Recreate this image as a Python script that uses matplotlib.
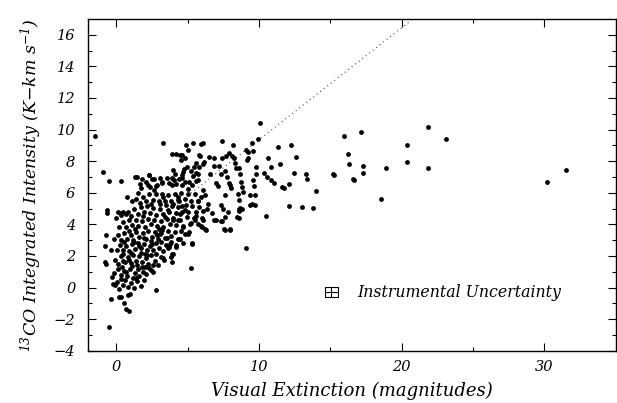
import numpy as np
import matplotlib
matplotlib.use("Agg")
import matplotlib.pyplot as plt
from matplotlib.patches import Rectangle

plt.rcParams['font.family'] = 'DejaVu Serif'
plt.rcParams['font.style'] = 'italic'
plt.rcParams['mathtext.fontset'] = 'custom'
plt.rcParams['mathtext.rm'] = 'DejaVu Serif:italic'
plt.rcParams['mathtext.it'] = 'DejaVu Serif:italic'
plt.rcParams['mathtext.default'] = 'it'

# scattered points read one by one (A_V, I(13CO))
av_sparse = [-1.5, -0.96, -0.52, 0.36, -0.74, -0.79, -0.68, -0.66, -0.8, -0.74,
             -0.35, -0.38, -0.52, 0.3, 0.57, 0.68, 0.87, 0.93, 2.79, 5.2,
             9.07, 3.25, 4.86, 5.4, 5.9, 6.1, 7.38, 8.17, 9.48, 9.92,
             10.1, 10.66, 10.85, 11.34, 11.48, 12.27, 12.62, 12.43, 12.08, 12.98,
             13.3, 13.39, 13.8, 14.02, 15.16, 15.27, 15.96, 16.23, 16.28, 16.61,
             16.67, 17.16, 17.3, 17.3, 18.52, 18.93, 20.4, 20.4, 21.86, 21.86,
             23.1, 30.2, 31.5,
             3.93, 4.2, 4.43, 4.6, 5.05, 4.5, 4.8, 5.87, 6.47, 7.7,
             8.14, 8.3, 8.4, 9.18, 9.2, 9.6, 9.8, 9.8, 9.6, 9.67,
             9.73, 9.37, 9.48, 9.73, 10.5, 10.35, 10.57, 10.85, 11.04, 11.6,
             11.78, 12.1, 8.58, 8.69, 8.74, 8.8, 8.88, 8.52, 8.6, 8.69,
             8.6, 8.47, 7.98, 8.06, 7.76, 7.9, 7.62, 7.32, 6.83, 7.21,
             6.56, 6.97, 7.1, 7.6, 7.3, 7.46, 7.0, 7.38, 7.62, 7.65,
             8.0, 6.69, 6.39, 6.04, 6.2, 5.9, 5.74, 6.34, 5.98, 6.28,
             5.6, 5.5, 5.33, 5.05, 5.16, 5.82, 6.04, 6.17, 5.57, 5.36,
             5.71, 5.27, 5.05, 4.62, 4.8, 5.41, 5.55, 4.92, 4.72, 4.59,
             4.37, 4.02, 3.9, 3.96, 4.32, 4.37, 4.62, 4.83, 4.48, 4.32,
             4.7, 4.83, 4.45, 4.18, 3.93, 3.9, 3.8, 3.58, 3.74, 3.2,
             3.06, 3.42, 3.63, 3.09, 3.3, 2.87, 3.2, 2.49, 2.32, 1.83,
             2.05, 1.42, 1.64, 2.35, 2.65, 0.77, 0.36, 0.66, 1.31, 2.29,
             3.05, 3.87, 5.77, 6.86, 7.4, 7.91, 8.26, 9.07, 9.23, 4.2,
             5.31, 7.56, 7.96, 6.24, 5.94, 6.86, 7.33, 8.6, 8.84, 8.6,
             7.86, 9.4, 6.05, 5.12, 4.65, 0.2, 0.8, -0.03, 0.15, 0.5,
             3.64, 3.29, 3.98, 3.98, -0.31, -0.08]
ico_sparse = [9.58, 7.33, 6.74, 6.76, 3.3, 2.63, 4.9, 4.7, 1.6, 1.5,
              2.4, -0.7, -2.48, -0.63, -0.97, -1.35, -1.5, -0.44, -0.17, 1.26,
              2.5, 9.14, 9.0, 9.16, 9.1, 9.14, 9.3, 9.05, 9.16, 9.37,
              10.44, 8.19, 7.62, 8.9, 7.79, 8.99, 8.27, 7.22, 5.16, 5.07,
              7.2, 6.84, 5.05, 6.13, 7.18, 7.14, 9.56, 8.48, 7.81, 6.86,
              6.78, 9.85, 7.66, 7.24, 5.58, 7.56, 9.01, 7.96, 10.13, 7.56,
              9.37, 6.67, 7.41,
              8.42, 8.42, 8.4, 8.4, 8.7, 8.08, 8.17, 8.3, 8.25, 8.34,
              8.34, 7.9, 7.58, 8.1, 8.6, 8.67, 7.62, 7.2, 6.78, 6.44,
              5.83, 5.83, 5.26, 5.24, 4.55, 7.24, 6.99, 6.82, 6.61, 6.36,
              6.32, 6.53, 7.56, 7.2, 6.67, 6.36, 6.04, 5.92, 5.52, 5.03,
              4.82, 4.46, 6.5, 6.3, 6.99, 6.6, 7.35, 7.2, 7.68, 7.66,
              7.16, 6.6, 6.4, 5.83, 5.22, 5.0, 4.25, 4.2, 4.46, 3.66,
              3.66, 4.74, 5.3, 6.15, 5.85, 5.7, 5.5, 4.99, 3.83, 3.66,
              4.55, 4.25, 2.78, 3.41, 4.04, 7.62, 7.79, 7.94, 7.26, 7.03,
              6.78, 6.46, 6.23, 6.5, 6.67, 7.62, 7.9, 7.62, 7.49, 7.1,
              6.84, 6.78, 6.46, 7.41, 5.73, 5.45, 5.16, 4.88, 4.67, 4.25,
              3.83, 3.41, 3.1, 2.67, 2.15, 1.62, 1.94, 3.16, 2.78, 3.62,
              3.41, 4.46, 4.88, 5.26, 5.73, 6.46, 6.67, 6.84, 7.1, 6.84,
              6.67, 6.99, 6.57, 6.36, 6.15, 5.73, 4.72, 4.67, 7.01, 7.12,
              6.91, 6.9, 8.39, 8.18, 8.18, 8.49, 8.21, 8.7, 8.18, 2.58,
              2.8, 3.7, 3.7, 3.7, 3.91, 4.27, 4.21, 4.97, 4.97, 4.42,
              4.76, 5.2, 4.27, 3.53, 2.8, -0.58, -0.47, 4.38, 4.8, 4.8,
              2.48, 1.85, 2.1, 4.27, 0.68, 0.16]

# dense core of the cloud, estimated band by band (A_V, I)
core_pts = [
    (-0.25, 0.2), (0.05, 0.35), (0.22, -0.1), (0.48, 0.15), (0.62, 0.45), (0.85, 0.05),
    (1.05, 0.3), (1.22, -0.05), (1.45, 0.4), (1.7, 0.1), (1.92, 0.5), (0.35, 0.55), (1.15, 0.6),
    (-0.15, 0.9), (0.1, 1.15), (0.3, 0.8), (0.55, 1.05), (0.78, 0.7), (0.95, 1.2), (1.28, 0.9),
    (1.5, 1.15), (1.62, 0.75), (1.85, 1.0), (2.1, 0.85), (2.3, 1.25), (2.55, 0.95), (0.4, 1.3),
    (1.1, 1.35), (2.0, 1.3), (0.68, 0.95), (1.38, 0.62), (1.78, 1.3), (2.42, 1.1),
    (-0.1, 1.75), (0.15, 1.5), (0.32, 2.0), (0.6, 1.6), (0.8, 1.95), (1.0, 1.55), (1.2, 2.05),
    (1.38, 1.7), (1.58, 2.0), (1.8, 1.6), (2.05, 1.85), (2.25, 1.5), (2.45, 2.05), (2.68, 1.7),
    (2.9, 1.45), (3.1, 1.9), (3.35, 1.75), (0.5, 2.1), (1.7, 2.2), (2.8, 2.15),
    (0.9, 1.75), (1.48, 1.45), (2.15, 2.05), (2.55, 1.45), (0.45, 1.7),
    (0.05, 2.4), (0.25, 2.7), (0.45, 2.35), (0.7, 2.6), (0.92, 2.3), (1.1, 2.75), (1.3, 2.45),
    (1.5, 2.8), (1.72, 2.5), (1.95, 2.75), (2.15, 2.35), (2.35, 2.65), (2.6, 2.4), (2.8, 2.8),
    (3.0, 2.5), (3.25, 2.3), (3.45, 2.7), (3.7, 2.55), (3.85, 2.85), (2.0, 2.15), (1.05, 2.2),
    (0.55, 2.9), (1.6, 2.6), (2.5, 2.75), (3.15, 2.85), (1.25, 2.9),
    (-0.15, 3.05), (0.1, 3.3), (0.35, 3.0), (0.55, 3.45), (0.75, 3.1), (1.0, 3.35), (1.2, 3.0),
    (1.4, 3.5), (1.6, 3.2), (1.85, 3.45), (2.05, 3.1), (2.25, 3.55), (2.5, 3.2), (2.7, 3.5),
    (2.95, 3.05), (3.15, 3.45), (3.4, 3.15), (3.6, 3.55), (3.85, 3.25), (4.1, 3.5), (4.3, 3.1),
    (4.55, 3.6), (2.4, 2.95), (1.3, 3.7), (3.0, 3.7), (0.9, 3.6), (1.95, 3.15), (2.85, 3.3),
    (0.2, 3.85), (0.45, 4.15), (0.7, 3.8), (0.9, 4.25), (1.12, 3.95), (1.35, 4.3), (1.55, 3.9),
    (1.78, 4.2), (2.0, 3.85), (2.2, 4.35), (2.42, 4.0), (2.65, 4.3), (2.85, 3.9), (3.1, 4.2),
    (3.3, 3.85), (3.52, 4.35), (3.75, 4.0), (3.98, 4.4), (4.2, 3.95), (4.45, 4.3), (4.7, 3.9),
    (4.95, 4.45), (5.2, 4.1), (5.45, 4.4), (5.7, 4.05), (6.0, 4.4), (1.9, 4.5),
    (0.3, 4.6), (0.8, 4.75), (1.05, 4.5), (1.25, 5.0), (1.5, 4.65), (1.7, 5.1), (1.95, 4.75),
    (2.15, 5.15), (2.35, 4.7), (2.6, 5.05), (2.8, 4.6), (3.05, 5.0), (3.25, 4.65), (3.45, 5.2),
    (3.7, 4.8), (3.9, 5.15), (4.15, 4.7), (4.35, 5.1), (4.6, 4.75), (4.85, 5.2), (5.05, 4.8),
    (5.3, 5.15), (5.55, 4.75), (5.8, 5.1), (6.05, 4.85), (2.45, 5.3), (4.0, 5.3),
    (1.1, 5.45), (1.4, 5.6), (1.65, 5.35), (1.9, 5.75), (2.1, 5.45), (2.3, 5.9), (2.55, 5.55),
    (2.75, 5.95), (3.0, 5.5), (3.2, 5.9), (3.4, 5.5), (3.65, 5.85), (3.85, 5.45), (4.1, 5.9),
    (4.3, 5.55), (4.55, 6.0), (4.8, 5.6), (5.0, 5.95), (5.25, 5.5), (5.5, 5.9), (5.75, 5.45),
    (1.55, 6.0),
    (1.75, 6.3), (2.25, 6.5), (2.75, 6.45), (3.2, 6.6), (3.7, 6.6), (4.15, 6.55), (4.6, 6.9),
    (5.1, 6.65), (5.6, 6.75), (2.65, 6.85), (3.55, 6.95),
    (4.1, 7.2), (4.65, 7.3), (5.2, 7.35), (5.75, 7.2),
]

# dotted reference line end points
fit_av = [4.0, 21.2]
fit_ico = [5.1, 17.3]

# instrumental uncertainty box: centre and half widths
unc_av, unc_ico = 15.05, -0.3
unc_dav, unc_dico = 0.45, 0.32

av_core = [p[0] for p in core_pts]
ico_core = [p[1] for p in core_pts]

fig = plt.figure(figsize=(6.17, 4.03), dpi=100)
ax = fig.add_axes([0.1423, 0.1298, 0.8557, 0.8232])

ax.plot(fit_av, fit_ico, color='0.3', lw=0.8, ls=(0, (1, 3)))
ax.scatter(av_sparse + av_core, ico_sparse + ico_core, s=12, c='black', linewidths=0, zorder=3)

ax.add_patch(Rectangle((unc_av - unc_dav, unc_ico - unc_dico), 2 * unc_dav, 2 * unc_dico,
                       fill=False, ec='black', lw=0.8))
ax.plot([unc_av - unc_dav, unc_av + unc_dav], [unc_ico, unc_ico], color='black', lw=0.8)
ax.plot([unc_av, unc_av], [unc_ico - unc_dico, unc_ico + unc_dico], color='black', lw=0.8)
ax.text(16.9, unc_ico, 'Instrumental Uncertainty', fontsize=11.3, va='center', ha='left')

ax.set_xlim(-2, 35)
ax.set_ylim(-4, 17)
ax.set_xticks([0, 10, 20, 30])
ax.set_xticks([5, 15, 25], minor=True)
ax.set_yticks(np.arange(-4, 17, 2))
ax.set_yticks(np.arange(-3, 17, 2), minor=True)
ax.tick_params(which='both', direction='in', top=True, right=True, width=0.8)
ax.tick_params(which='major', length=6, labelsize=10.5)
ax.tick_params(which='minor', length=3)
ax.tick_params(axis='x', pad=7)
ax.tick_params(axis='y', pad=9)
for sp in ax.spines.values():
    sp.set_linewidth(1.0)

ax.set_xlabel('Visual Extinction (magnitudes)', fontsize=13, labelpad=5)
ax.set_ylabel('$^{13}$CO Integrated Intensity (K$-$km s$^{-1}$)', fontsize=12.5, labelpad=7)

fig.savefig('out.png', dpi=100)
